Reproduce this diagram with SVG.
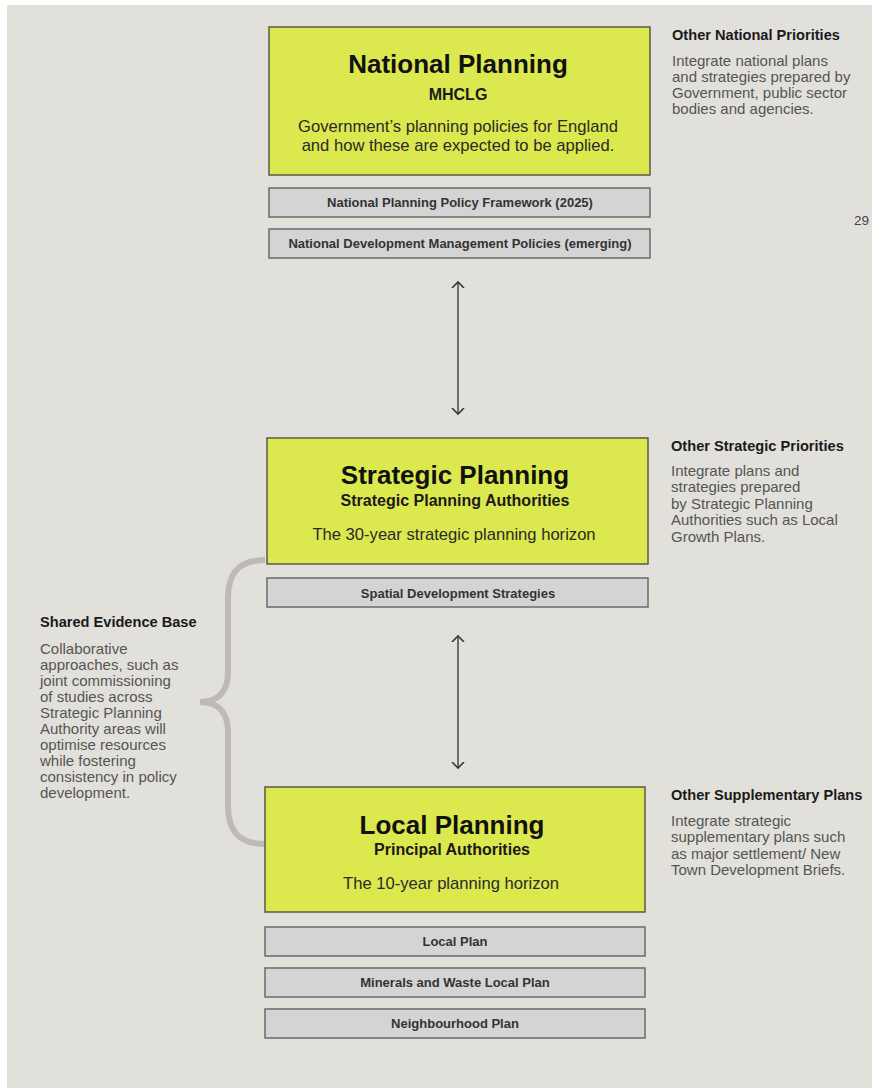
<svg xmlns="http://www.w3.org/2000/svg" width="872" height="1088" viewBox="0 0 872 1088">
<defs>
<style>
.bg{fill:#e2e0da}
.main{fill:#dbe84e;stroke:#5a5a4a;stroke-width:1.5}
.sub{fill:#d4d4d4;stroke:#6a6a6a;stroke-width:1.5}
.t1{font-family:"Liberation Sans",Arial,sans-serif;font-weight:bold;font-size:26px;fill:#111;text-anchor:middle}
.t2{font-family:"Liberation Sans",Arial,sans-serif;font-weight:bold;font-size:16px;fill:#1a1a1a;text-anchor:middle}
.t3{font-family:"Liberation Sans",Arial,sans-serif;font-size:16.6px;fill:#2a2a2a;text-anchor:middle}
.lb{font-family:"Liberation Sans",Arial,sans-serif;font-weight:bold;font-size:13px;fill:#333;text-anchor:middle}
.sh{font-family:"Liberation Sans",Arial,sans-serif;font-weight:bold;font-size:14.6px;fill:#1a1a1a}
.sb{font-family:"Liberation Sans",Arial,sans-serif;font-size:15px;fill:#555}
.conn{stroke:#6e6e6e;stroke-width:2;fill:none}
.brace{stroke:#bdbab8;stroke-width:6;fill:none;stroke-linecap:butt}
</style>
<marker id="ah" viewBox="0 0 12 14" refX="6" refY="7" markerWidth="12" markerHeight="14" markerUnits="userSpaceOnUse" orient="auto-start-reverse">
<polyline points="0,1 6,7 0,13" fill="none" stroke="#3a3a3a" stroke-width="1.6"/>
</marker>
</defs>
<rect class="bg" x="7" y="5" width="865" height="1083"/>

<g id="connectors">
<line class="conn" x1="458" y1="282" x2="458" y2="414" marker-start="url(#ah)" marker-end="url(#ah)"/>
<line class="conn" x1="458" y1="636" x2="458" y2="768" marker-start="url(#ah)" marker-end="url(#ah)"/>
<path class="brace" d="M265,560 C240,560 228,572 228,598 L228,672 C228,692 218,702 200,702 C218,702 228,712 228,732 L228,806 C228,832 240,844 265,844"/>
</g>

<g id="national">
<rect class="main" x="269" y="27" width="381" height="148"/>
<text class="t1" x="458" y="73">National Planning</text>
<text class="t2" x="458" y="100">MHCLG</text>
<text class="t3" x="458" y="132">Government’s planning policies for England</text>
<text class="t3" x="458" y="151">and how these are expected to be applied.</text>
</g>
<g id="nppf">
<rect class="sub" x="269" y="188" width="381" height="29"/>
<text class="lb" x="460" y="207">National Planning Policy Framework (2025)</text>
</g>
<g id="ndmp">
<rect class="sub" x="269" y="229" width="381" height="29"/>
<text class="lb" x="460" y="248">National Development Management Policies (emerging)</text>
</g>

<g id="strategic">
<rect class="main" x="267" y="438" width="381" height="126"/>
<text class="t1" x="455" y="484">Strategic Planning</text>
<text class="t2" x="455" y="506">Strategic Planning Authorities</text>
<text class="t3" x="454" y="540">The 30-year strategic planning horizon</text>
</g>
<g id="sds">
<rect class="sub" x="267" y="578" width="381" height="29"/>
<text class="lb" x="458" y="598">Spatial Development Strategies</text>
</g>

<g id="local">
<rect class="main" x="265" y="787" width="380" height="125"/>
<text class="t1" x="452" y="834">Local Planning</text>
<text class="t2" x="452" y="855">Principal Authorities</text>
<text class="t3" x="451" y="889">The 10-year planning horizon</text>
</g>
<g id="localplan">
<rect class="sub" x="265" y="927" width="380" height="29"/>
<text class="lb" x="455" y="946">Local Plan</text>
</g>
<g id="minerals">
<rect class="sub" x="265" y="968" width="380" height="29"/>
<text class="lb" x="455" y="987">Minerals and Waste Local Plan</text>
</g>
<g id="neighbourhood">
<rect class="sub" x="265" y="1009" width="380" height="29"/>
<text class="lb" x="455" y="1028">Neighbourhood Plan</text>
</g>

<g id="other-national">
<text class="sh" x="672" y="40">Other National Priorities</text>
<text class="sb" x="672" y="66">Integrate national plans</text>
<text class="sb" x="672" y="82">and strategies prepared by</text>
<text class="sb" x="672" y="98">Government, public sector</text>
<text class="sb" x="672" y="114">bodies and agencies.</text>
</g>
<text class="sb" x="869" y="225" text-anchor="end" style="fill:#444;font-size:13.5px">29</text>

<g id="other-strategic">
<text class="sh" x="671" y="451">Other Strategic Priorities</text>
<text class="sb" x="671" y="476">Integrate plans and</text>
<text class="sb" x="671" y="492">strategies prepared</text>
<text class="sb" x="671" y="509">by Strategic Planning</text>
<text class="sb" x="671" y="525">Authorities such as Local</text>
<text class="sb" x="671" y="542">Growth Plans.</text>
</g>

<g id="other-supplementary">
<text class="sh" x="671" y="800">Other Supplementary Plans</text>
<text class="sb" x="671" y="826">Integrate strategic</text>
<text class="sb" x="671" y="842">supplementary plans such</text>
<text class="sb" x="671" y="859">as major settlement/ New</text>
<text class="sb" x="671" y="875">Town Development Briefs.</text>
</g>

<g id="shared-evidence">
<text class="sh" x="40" y="627">Shared Evidence Base</text>
<text class="sb" x="40" y="654">Collaborative</text>
<text class="sb" x="40" y="670">approaches, such as</text>
<text class="sb" x="40" y="686">joint commissioning</text>
<text class="sb" x="40" y="702">of studies across</text>
<text class="sb" x="40" y="718">Strategic Planning</text>
<text class="sb" x="40" y="734">Authority areas will</text>
<text class="sb" x="40" y="750">optimise resources</text>
<text class="sb" x="40" y="766">while fostering</text>
<text class="sb" x="40" y="782">consistency in policy</text>
<text class="sb" x="40" y="798">development.</text>
</g>
</svg>
